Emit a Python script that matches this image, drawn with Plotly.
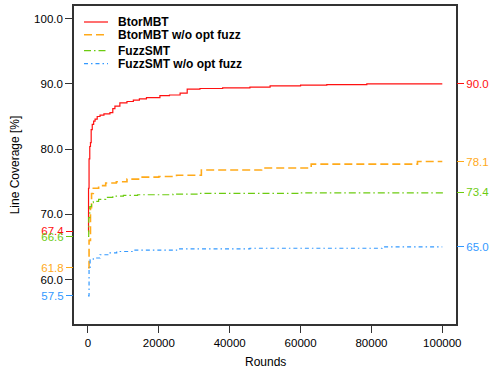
import plotly.graph_objects as go

# ---- data ----
series_names = ["BtorMBT", "BtorMBT w/o opt fuzz", "FuzzSMT", "FuzzSMT w/o opt fuzz"]

red_x = [0, 150, 300, 500, 700, 900, 1200, 1600, 2000, 2600, 3400, 4500, 6200, 7000, 7600, 9000, 11000, 12800, 14500, 16500, 20300, 23000, 26000, 28000, 31600, 38000, 45700, 51400, 60000, 67400, 78700, 100000]
red_y = [67.4, 74.0, 78.5, 80.4, 81.0, 83.0, 83.8, 84.3, 84.6, 85.0, 85.2, 85.4, 85.6, 86.2, 86.6, 87.1, 87.3, 87.5, 87.7, 87.9, 88.2, 88.3, 88.6, 89.2, 89.3, 89.4, 89.5, 89.7, 89.8, 89.9, 90.0, 90.0]

org_x = [0, 300, 700, 1000, 1500, 3000, 5000, 8000, 11000, 15000, 20000, 25000, 32000, 49000, 63000, 93000, 100000]
org_y = [61.8, 66.0, 71.0, 73.2, 74.0, 74.4, 74.8, 75.0, 75.4, 75.7, 75.8, 76.0, 76.8, 77.1, 77.7, 78.1, 78.1]

grn_x = [0, 200, 500, 1000, 1500, 3000, 5000, 7000, 10000, 14000, 24000, 31000, 60000, 100000]
grn_y = [66.6, 69.5, 71.2, 71.8, 72.0, 72.3, 72.6, 72.8, 72.9, 73.0, 73.1, 73.2, 73.3, 73.4]

blu_x = [0, 300, 600, 1500, 3400, 6000, 8100, 12800, 25000, 45700, 83000, 100000]
blu_y = [57.5, 61.5, 63.0, 63.3, 63.8, 64.1, 64.3, 64.5, 64.7, 64.8, 65.0, 65.0]

y_ticks = [60, 70, 80, 90, 100]
x_ticks = [0, 20000, 40000, 60000, 80000, 100000]

colors = ["#FF1010", "#FFAA1A", "#6CCB10", "#3399FF"]
dashes = ["solid", "8px,4px", "7px,3px,1.5px,3px", "4px,3px,1.5px,3px"]
widths = [1.2, 1.6, 1.2, 1.2]

xs = [red_x, org_x, grn_x, blu_x]
ys = [red_y, org_y, grn_y, blu_y]

FONT = "Liberation Sans, Arial, Helvetica, sans-serif"
YR = [53.18, 101.95]
XR = [-3950, 103870]

fig = go.Figure()
for i in range(4):
    fig.add_trace(go.Scatter(
        x=xs[i], y=ys[i], mode="lines", name=series_names[i], showlegend=False,
        line=dict(color=colors[i], dash=dashes[i], width=widths[i], shape="hv"),
        hoverinfo="skip"))

layout = dict(
    width=490, height=370,
    margin=dict(l=74, r=34, t=6, b=46),
    paper_bgcolor="white", plot_bgcolor="white",
    font=dict(family=FONT, size=11.5, color="black"),
    xaxis=dict(range=XR, tickvals=x_ticks, ticktext=[str(v) for v in x_ticks],
               ticks="outside", ticklen=7, tickcolor="#333", tickwidth=1,
               showline=True, linecolor="#333", linewidth=1.6, mirror=True,
               showgrid=False, zeroline=False, automargin=False),
    yaxis=dict(range=YR, tickvals=y_ticks, ticktext=["%.1f" % v for v in y_ticks],
               ticks="outside", ticklen=7, tickcolor="#333", tickwidth=1,
               showline=True, linecolor="#333", linewidth=1.6, mirror=True,
               showgrid=False, zeroline=False, automargin=False,
               title=dict(text="Line Coverage [%]", font=dict(size=12), standoff=12)),
)

# colored start/end value axes (each carries an invisible anchor trace)
ax_id = 2
for i in range(4):
    for side, val in (("left", ys[i][0]), ("right", ys[i][-1])):
        name = "y%d" % ax_id
        layout["yaxis%d" % ax_id] = dict(
            range=YR, overlaying="y", side=side, anchor="x",
            tickvals=[val], ticktext=["%.1f" % val],
            ticks="outside", ticklen=7, tickcolor=colors[i], tickwidth=1.2,
            tickfont=dict(color=colors[i], size=11.5),
            showline=False, showgrid=False, zeroline=False, automargin=False)
        fig.add_trace(go.Scatter(x=[xs[i][0] if side == "left" else xs[i][-1]], y=[val],
                                 yaxis=name, mode="markers", marker=dict(opacity=0),
                                 showlegend=False, hoverinfo="skip"))
        ax_id += 1

fig.update_layout(**layout)

px_w, px_h = 382.0, 318.0
def px2paper_x(px):
    return (px - 74) / px_w
def px2paper_y(py):
    return (324 - py) / px_h

# x-axis title
fig.add_annotation(xref="paper", yref="paper", x=0.5, y=px2paper_y(362),
                   xanchor="center", yanchor="middle", showarrow=False,
                   text="Rounds", font=dict(size=12, color="black", family=FONT))

# manual legend (top-left inside plot)
rows = [22, 34.7, 50.7, 63.7]
for i in range(4):
    yp = px2paper_y(rows[i])
    fig.add_shape(type="line", xref="paper", yref="paper",
                  x0=px2paper_x(84), x1=px2paper_x(108), y0=yp, y1=yp,
                  line=dict(color=colors[i], dash=dashes[i], width=widths[i]))
    fig.add_annotation(xref="paper", yref="paper", x=px2paper_x(116), y=yp,
                       xanchor="left", yanchor="middle", showarrow=False,
                       text="<b>%s</b>" % series_names[i],
                       font=dict(size=12, color="black", family=FONT))

fig.write_html("out.html", config={"displayModeBar": False},
               post_script="document.body.style.margin='0';document.body.style.overflow='hidden';")
